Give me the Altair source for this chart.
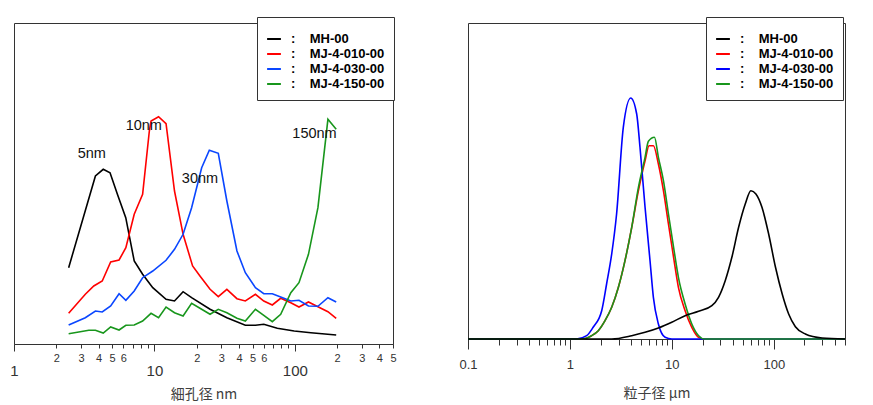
import altair as alt
import pandas as pd

SERIES = ["MH-00", "MJ-4-010-00", "MJ-4-030-00", "MJ-4-150-00"]
COLORS_LEFT = ["#000000", "#ff0000", "#0a46ff", "#18961c"]
COLORS_RIGHT = ["#000000", "#ff0000", "#0000ff", "#18961c"]

# ---- left panel: pore size distribution (nm) ----
pore_mh_d = [2.45, 3.80, 4.32, 4.83, 5.45, 6.25, 7.18, 8.24, 9.73, 12.1, 13.9, 16.0, 18.4, 24.9, 32.8, 44.4, 52.4, 60.1, 75.0, 98.9, 130, 197]
pore_mh_v = [76.3, 168, 174.7, 171.3, 149.7, 126.3, 83, 69.7, 56.3, 44.7, 43, 52.3, 46.3, 34.7, 26.3, 18.7, 18.7, 19.7, 15.7, 13, 11.3, 9]

pore_010_d = [2.45, 3.22, 3.70, 4.25, 4.88, 5.60, 6.26, 7.18, 8.24, 9.20, 9.46, 10.7, 12.1, 13.9, 16.0, 18.7, 21.1, 24.9, 28.5, 32.8, 38.7, 44.4, 52.4, 60.1, 69.1, 79.3, 93.6, 107, 125, 146, 172, 197]
pore_010_v = [30.7, 49.7, 58, 63, 82, 84, 96.3, 129.7, 149.7, 213, 223, 227.3, 220.3, 153, 109.7, 78, 68, 54.7, 47.3, 54.7, 45.3, 43, 49.7, 43, 39, 45.7, 41.3, 37, 42, 37.3, 32.3, 25.7]

pore_030_d = [2.45, 3.22, 3.80, 4.25, 4.88, 5.60, 6.26, 7.18, 8.24, 9.73, 12.1, 13.9, 16.0, 18.4, 21.7, 24.6, 28.5, 32.8, 38.7, 44.4, 52.4, 60.1, 69.1, 79.3, 93.6, 107, 125, 146, 172, 197]
pore_030_v = [19, 26.3, 33, 32, 38, 50.3, 43.7, 53, 66.3, 73, 83.7, 94.7, 109.7, 136.3, 176.3, 193.7, 190.7, 143, 93, 71.3, 56.3, 50.3, 50.3, 47, 43, 43.7, 38, 37.7, 46.3, 42]

pore_150_d = [2.45, 3.41, 3.80, 4.32, 4.88, 5.60, 6.26, 7.18, 8.24, 9.46, 10.7, 12.1, 13.9, 16.0, 18.4, 21.1, 24.9, 28.5, 32.8, 38.7, 44.4, 52.4, 60.1, 69.1, 79.3, 93.6, 107, 125, 146, 172, 197]
pore_150_v = [10.3, 13.7, 13.7, 11, 17, 14, 18.7, 19, 23, 30.7, 26.3, 37, 31.3, 28, 40.7, 35.7, 29.7, 34.7, 31.3, 25.7, 23, 34.7, 28.7, 22.3, 29.7, 51.3, 61.3, 89.7, 136.3, 224.7, 214.7]

ann_labels = ["5nm", "10nm", "30nm", "150nm"]
ann_d = [3.58, 8.4, 21.1, 138]
ann_v = [190.5, 218, 164.7, 210.5]

# ---- right panel: particle size distribution (um) ----
part_mh_d = [0.1, 2.57, 4.04, 5.46, 7.38, 9.98, 13.5, 18.3, 24.7, 28.7, 33.4, 38.8, 45.2, 52.5, 59.7, 66.8, 76.6, 89.1, 104, 121, 140, 163, 204, 298, 500]
part_mh_v = [0, 0, 3.3, 6.7, 11, 16.7, 23.3, 27.7, 33.3, 41.7, 58.3, 81.7, 111.7, 135, 148.3, 145, 131.7, 105, 71.7, 45, 25, 12.3, 5, 1, 0]

part_010_d = [0.1, 1.30, 1.63, 1.90, 2.21, 2.57, 2.99, 3.47, 4.04, 4.70, 5.46, 5.98, 6.59, 7.38, 8.27, 9.26, 10.4, 11.6, 13.5, 15.7, 18.3, 20.5, 500]
part_010_v = [0, 0, 3.3, 8.3, 18.3, 31.7, 51.7, 78.3, 111.7, 148.3, 178.3, 193.3, 193.3, 175, 148.3, 115, 81.7, 51.7, 28.3, 11.7, 1.7, 0, 0]

part_030_d = [0.1, 1.16, 1.46, 1.69, 2.05, 2.29, 2.57, 2.87, 3.34, 3.95, 4.52, 4.87, 5.46, 6.11, 6.59, 7.38, 8.59, 10.0, 500]
part_030_v = [0, 0, 3.3, 11.7, 28.3, 55, 85, 125, 211.7, 241, 225, 191.7, 131.7, 78.3, 41.7, 15, 1.7, 0, 0]

part_150_d = [0.1, 1.30, 1.63, 1.90, 2.21, 2.57, 2.99, 3.47, 4.04, 4.70, 5.46, 5.89, 6.75, 7.38, 8.27, 9.26, 10.4, 11.6, 13.5, 15.7, 18.3, 21.0, 500]
part_150_v = [0, 0, 3.3, 8.3, 18.3, 31.7, 51.7, 78.3, 111.7, 151.7, 181.7, 197.7, 201.7, 181.7, 158.3, 125, 91.7, 61.7, 35, 15, 3.3, 0, 0]

LEFT_MAJOR = [1, 10, 100]
LEFT_MINOR = [2, 3, 4, 5, 6, 7, 8, 9, 20, 30, 40, 50, 60, 70, 80, 90, 200, 300, 400, 500]
LEFT_MINOR_LABELED = [2, 3, 4, 5, 6, 20, 30, 40, 50, 60, 200, 300, 400, 500]
RIGHT_MAJOR = [0.1, 1, 10, 100]
RIGHT_MINOR = [0.2, 0.3, 0.4, 0.5, 0.6, 0.7, 0.8, 0.9, 2, 3, 4, 5, 6, 7, 8, 9,
               20, 30, 40, 50, 60, 70, 80, 90, 200, 300, 400, 500]


def frame(pairs):
    rows = []
    for name, ds, vs in pairs:
        for d, v in zip(ds, vs):
            rows.append({"series": name, "D": d, "v": v})
    return pd.DataFrame(rows)


df_left = frame([
    (SERIES[0], pore_mh_d, pore_mh_v),
    (SERIES[1], pore_010_d, pore_010_v),
    (SERIES[2], pore_030_d, pore_030_v),
    (SERIES[3], pore_150_d, pore_150_v),
])
df_right = frame([
    (SERIES[1], part_010_d, part_010_v),
    (SERIES[2], part_030_d, part_030_v),
    (SERIES[3], part_150_d, part_150_v),
    (SERIES[0], part_mh_d, part_mh_v),
])
df_ann = pd.DataFrame({"label": ann_labels, "D": ann_d, "v": ann_v})

LATIN = "Liberation Sans"
CJK = "Noto Sans CJK JP"
NB = "\u00a0"


def legend(x, y, tail):
    return alt.Legend(
        title=NB, titleFontSize=4, titlePadding=1, orient="none", legendX=x, legendY=y,
        direction="vertical",
        symbolType="stroke", symbolStrokeWidth=2, symbolSize=190,
        labelFont=LATIN, labelFontSize=13, labelFontWeight="bold", labelColor="#000",
        labelExpr="':" + NB * 4 + "' + datum.label + '" + NB * tail + "'",
        strokeColor="#333", fillColor="white", padding=9, rowPadding=0, labelOffset=9,
    )


# left panel
xs_l = alt.Scale(type="log", domain=[1, 500], nice=False)
ys_l = alt.Scale(domain=[0, 321], nice=False, zero=True)

lines_l = alt.Chart(df_left).mark_line(strokeWidth=1.6).encode(
    x=alt.X("D:Q", scale=xs_l, axis=alt.Axis(
        orient="bottom", values=LEFT_MAJOR, format="~g", tickSize=7, labelFontSize=15,
        labelPadding=12, labelFont=LATIN, title="細孔径 nm", titleFont=CJK,
        titleFontSize=14, titleFontWeight="normal", titlePadding=9, grid=False,
        labelOverlap=False, labelFlush=False)),
    y=alt.Y("v:Q", scale=ys_l, axis=None),
    color=alt.Color("series:N", scale=alt.Scale(domain=SERIES, range=COLORS_LEFT),
                    legend=legend(243, -6, 3)),
)

ann_l = alt.Chart(df_ann).mark_text(font=LATIN, fontSize=14.5, color="#111").encode(
    x=alt.X("D:Q", scale=xs_l, axis=alt.Axis(
        orient="bottom", values=LEFT_MINOR, tickSize=4, labelFontSize=11, labelPadding=4,
        labelFont=LATIN, domain=False, title=None, grid=False, labelOverlap=False,
        labelFlush=False,
        labelExpr="indexof(" + str(LEFT_MINOR_LABELED) + ", datum.value) >= 0 ? "
                  "substring(toString(datum.value), 0, 1) : ''")),
    y=alt.Y("v:Q", scale=ys_l, axis=None),
    text="label:N",
)

left = alt.layer(lines_l, ann_l).resolve_axis(x="independent").properties(width=379, height=321)

# right panel
xs_r = alt.Scale(type="log", domain=[0.1, 500], nice=False)
ys_r = alt.Scale(domain=[0, 316], nice=False, zero=True)

lines_r = alt.Chart(df_right).mark_line(strokeWidth=1.6, interpolate="monotone").encode(
    x=alt.X("D:Q", scale=xs_r, axis=alt.Axis(
        orient="bottom", values=RIGHT_MAJOR, format="~g", tickSize=10, labelFontSize=13,
        labelPadding=9, labelFont=LATIN, title="粒子径 μm", titleFont=CJK,
        titleFontSize=14, titleFontWeight="normal", titlePadding=15, grid=False,
        labelOverlap=False, labelFlush=False)),
    y=alt.Y("v:Q", scale=ys_r, axis=None),
    color=alt.Color("series:N", scale=alt.Scale(domain=SERIES, range=COLORS_RIGHT),
                    legend=legend(238, -6, 5)),
)

minor_r = alt.Chart(df_right).mark_line(opacity=0).encode(
    x=alt.X("D:Q", scale=xs_r, axis=alt.Axis(
        orient="bottom", values=RIGHT_MINOR, tickSize=6, labels=False, domain=False,
        title=None, grid=False)),
    y=alt.Y("v:Q", scale=ys_r, axis=None),
    detail="series:N",
)

right = alt.layer(lines_r, minor_r).resolve_axis(x="independent").properties(width=377, height=316)

chart = (
    alt.hconcat(left, right, spacing=61)
    .resolve_scale(color="independent")
    .properties(padding={"left": 9, "top": 16, "right": 5, "bottom": 2}, background="white")
    .configure_view(stroke="#333", strokeWidth=1)
    .configure_axis(domainColor="#333", tickColor="#333", labelColor="#333",
                    titleColor="#404040", domainWidth=1, tickWidth=1)
)

chart.save("out.html", embed_options={"renderer": "svg", "actions": False})
